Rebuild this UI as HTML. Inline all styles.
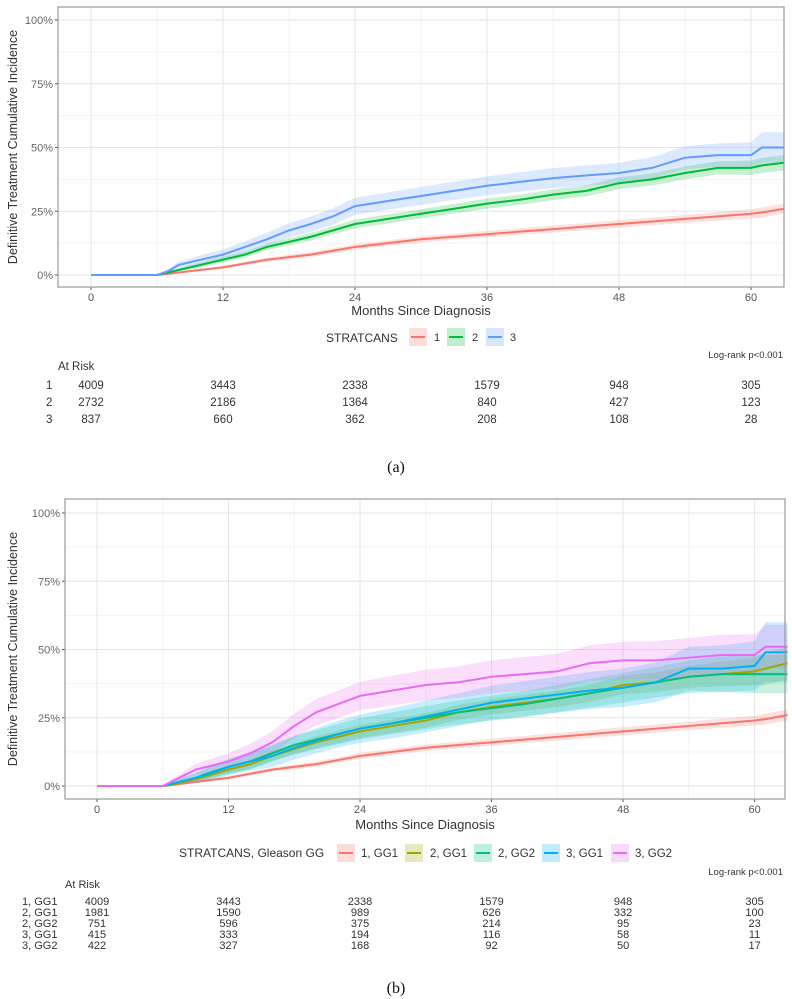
<!DOCTYPE html>
<html><head><meta charset="utf-8">
<style>
body{margin:0;background:#fff;width:792px;height:999px;overflow:hidden;font-family:"Liberation Sans",Arial,sans-serif;}
svg{display:block}
</style></head>
<body>
<svg id="chart" width="792" height="999" viewBox="0 0 792 999" xmlns="http://www.w3.org/2000/svg"></svg>
<script>
// ---------- data ----------
const months = [0,6,7,8,9,10,12,14,16,18,20,22,24,27,30,33,36,39,42,45,48,51,54,57,60,61,63];
const xTicks = [0,12,24,36,48,60];
const yTicks = [0,25,50,75,100];
const yTickLabels = ["0%","25%","50%","75%","100%"];

// Panel (a)
const aNames = ["1","2","3"];
const aRed   = [0,0,0.5,1,1.5,2,3,4.5,6,7,8,9.5,11,12.5,14,15,16,17,18,19,20,21,22,23,24,24.5,26];
const aGreen = [0,0,1,2,3,4,6,8,11,13,15,17.5,20,22,24,26,28,29.5,31.5,33,36,37.5,40,42,42,43,44];
const aBlue  = [0,0,1.5,4,5,6,8,11,14,17.5,20,23,27,29,31,33,35,36.5,38,39,40,42,46,47,47,50,50];
const aRedCI   = [0,0,0.2,0.3,0.4,0.5,0.6,0.7,0.8,0.9,1,1,1.1,1.1,1.2,1.2,1.3,1.3,1.4,1.4,1.5,1.5,1.6,1.7,1.8,2,2];
const aGreenCI = [0,0,0.4,0.6,0.8,1,1.1,1.2,1.3,1.4,1.5,1.6,1.7,1.8,1.8,1.9,2,2,2.1,2.2,2.3,2.4,2.5,2.6,2.8,3,3];
const aBlueCI  = [0,0,0.8,1.2,1.5,1.8,2,2.3,2.6,2.8,3,3.2,3.3,3.4,3.5,3.6,3.7,3.8,3.9,4,4,4.2,4.5,4.6,5,6,6];
const aRisk = [[4009,3443,2338,1579,948,305],[2732,2186,1364,840,427,123],[837,660,362,208,108,28]];

// Panel (b)
const bNames = ["1, GG1","2, GG1","2, GG2","3, GG1","3, GG2"];
const bRed     = [0,0,0.5,1,1.5,2,3,4.5,6,7,8,9.5,11,12.5,14,15,16,17,18,19,20,21,22,23,24,24.5,26];
const bOlive   = [0,0,0.5,1.5,2.5,3.5,6,8,11,13.5,16,18,20,22,24,27,29,30.5,32,34,37,38,40,41,42,43,45];
const bTeal    = [0,0,1,2,3,4.5,7,9,12,15,17,19,21,23,25,27,28.5,30,32,34,36,38,40,41,41,41,41];
const bCyan    = [0,0,1,2,3,4,7,9,11,14,16.5,19,21,23,25.5,28,30.5,32,33.5,35,36,38,43,43,44,49,49];
const bMagenta = [0,0,2,4,6,7,9,12,16,22,27,30,33,35,37,38,40,41,42,45,46,46,47,48,48,51,51];
const bRedCI     = [0,0,0.2,0.3,0.4,0.5,0.6,0.7,0.8,0.9,1,1,1.1,1.1,1.2,1.2,1.3,1.3,1.4,1.4,1.5,1.5,1.6,1.7,1.8,2,2];
const bOliveCI   = [0,0,0.5,0.8,1,1.2,1.5,1.7,1.9,2,2.2,2.3,2.4,2.5,2.6,2.7,2.8,2.9,3,3.2,3.4,3.6,4,4.5,5,6,6];
const bTealCI    = [0,0,0.8,1.2,1.5,2,2.5,2.8,3,3.3,3.5,3.7,3.9,4,4.2,4.4,4.6,4.8,5,5.2,5.4,5.6,6,6.5,7,7,7];
const bCyanCI    = [0,0,1,1.5,2,2.5,3,3.5,4,4.3,4.6,4.9,5.2,5.5,5.8,6,6.2,6.4,6.6,6.8,7,7.3,8,8.5,9,11,11];
const bMagentaCI = [0,0,1,1.5,2,2.5,3,3.5,4,4.5,4.8,5,5.2,5.4,5.6,5.8,6,6.2,6.4,6.6,6.8,7,7.2,7.4,7.6,8,8];
const bRisk = [[4009,3443,2338,1579,948,305],[1981,1590,989,626,332,100],[751,596,375,214,95,23],[415,333,194,116,58,11],[422,327,168,92,50,17]];

// ---------- drawing ----------
const svg = document.getElementById('chart');
const NS = 'http://www.w3.org/2000/svg';
function mk(tag, attrs, parent){
  const e = document.createElementNS(NS, tag);
  for (const k in attrs) e.setAttribute(k, attrs[k]);
  (parent||svg).appendChild(e);
  return e;
}
function txt(s, x, y, size, anchor, fill, parent, weight){
  const t = mk('text', {x:x, y:y, 'font-size':size, 'text-anchor':anchor||'start', fill:fill||'#333', 'font-family':'"Liberation Sans", Arial, sans-serif'}, parent);
  if (weight) t.setAttribute('font-weight', weight);
  t.textContent = s;
  return t;
}
function linePath(xs, ys, sx, sy){
  let d = 'M' + sx(xs[0]) + ',' + sy(ys[0]);
  for (let i = 1; i < xs.length; i++) d += 'L' + sx(xs[i]) + ',' + sy(ys[i]);
  return d;
}
function ribbonPath(xs, ys, ci, sx, sy){
  let d = 'M' + sx(xs[0]) + ',' + sy(ys[0] + ci[0]);
  for (let i = 1; i < xs.length; i++) d += 'L' + sx(xs[i]) + ',' + sy(ys[i] + ci[i]);
  for (let i = xs.length - 1; i >= 0; i--) d += 'L' + sx(xs[i]) + ',' + sy(Math.max(0, ys[i] - ci[i]));
  return d + 'Z';
}

function drawPanel(g, P, series){
  const sx = m => P.x0 + m * P.pxPerMonth;
  const sy = v => P.y0 - v * P.pxPerPct;
  mk('rect', {x:P.left, y:P.top, width:P.right-P.left, height:P.bottom-P.top, fill:'#fff'}, g);
  for (let i = 0; i < xTicks.length; i++){
    const mm = xTicks[i] + 6;
    if (sx(mm) < P.right) mk('line', {x1:sx(mm), x2:sx(mm), y1:P.top, y2:P.bottom, stroke:'#f3f3f3', 'stroke-width':1}, g);
  }
  for (let i = 0; i < yTicks.length - 1; i++){
    const v = yTicks[i] + 12.5;
    mk('line', {x1:P.left, x2:P.right, y1:sy(v), y2:sy(v), stroke:'#f3f3f3', 'stroke-width':1}, g);
  }
  for (let i = 0; i < xTicks.length; i++){
    const gl = mk('line', {x1:sx(xTicks[i]), x2:sx(xTicks[i]), y1:P.top, y2:P.bottom, stroke:'#e6e6e6', 'stroke-width':1}, g);
    
    
    mk('line', {x1:sx(xTicks[i]), x2:sx(xTicks[i]), y1:P.bottom, y2:P.bottom+3, stroke:'#555'}, g);
    const t = txt(String(xTicks[i]), sx(xTicks[i]), P.bottom + 14, 11, 'middle', '#555', g);
    
    
  }
  for (let i = 0; i < yTicks.length; i++){
    const gl = mk('line', {x1:P.left, x2:P.right, y1:sy(yTicks[i]), y2:sy(yTicks[i]), stroke:'#e6e6e6', 'stroke-width':1}, g);
    
    
    mk('line', {x1:P.left-3, x2:P.left, y1:sy(yTicks[i]), y2:sy(yTicks[i]), stroke:'#555'}, g);
    const t = txt(yTickLabels[i], P.left - 5, sy(yTicks[i]) + 4, 11, 'end', '#666', g);
    
    
  }
  for (const s of series){
    const r = mk('path', {d:ribbonPath(months, s.vals, s.ci, sx, sy), fill:s.color, 'fill-opacity':0.22, stroke:'none'}, g);
    
    
  }
  for (const s of series){
    const l = mk('path', {d:linePath(months, s.vals, sx, sy), fill:'none', stroke:s.color, 'stroke-width':2, 'stroke-linejoin':'round'}, g);
    
    
  }
  mk('rect', {x:P.left, y:P.top, width:P.right-P.left, height:P.bottom-P.top, fill:'none', stroke:'#999', 'stroke-width':1.2}, g);
}

function drawRisk(g, P, names, risk, labelX, rowY, fontSize){
  const sx = m => P.x0 + m * P.pxPerMonth;
  for (let r = 0; r < risk.length; r++){
    const l = txt(names[r], labelX, rowY[r], fontSize, 'start', '#333', g);
    
    
    for (let c = 0; c < risk[r].length; c++){
      const t = txt(String(risk[r][c]), sx(xTicks[c]), rowY[r], fontSize, 'middle', '#333', g);
      
      
    }
  }
}

function legendKey(g, x, y, color, name){
  const b = mk('rect', {x:x, y:y-9, width:18, height:18, fill:color, 'fill-opacity':0.25}, g);
  
  
  mk('line', {x1:x+2, x2:x+16, y1:y, y2:y, stroke:color, 'stroke-width':2}, g);
}

// ---- Panel A ----
const gA = mk('g', {});


const PA = {left:58, right:784, top:7, bottom:287, x0:91, pxPerMonth:11, y0:275, pxPerPct:2.55};
drawPanel(gA, PA, [
  {key:'1', vals:aRed, ci:aRedCI, color:'#F8766D'},
  {key:'2', vals:aGreen, ci:aGreenCI, color:'#00BA38'},
  {key:'3', vals:aBlue, ci:aBlueCI, color:'#619CFF'}
]);
const ytA = txt('Definitive Treatment Cumulative Incidence', 0, 0, 12.5, 'middle', '#333', gA);
ytA.setAttribute('transform', 'translate(17,147) rotate(-90)');


const xtA = txt('Months Since Diagnosis', 421, 315, 13, 'middle', '#333', gA);


const lgA = txt('STRATCANS', 326, 342, 12, 'start', '#333', gA);


legendKey(gA, 409, 337, '#F8766D', '1'); txt('1', 434, 341, 11, 'start', '#333', gA);
legendKey(gA, 447, 337, '#00BA38', '2'); txt('2', 472, 341, 11, 'start', '#333', gA);
legendKey(gA, 486, 337, '#619CFF', '3'); txt('3', 510, 341, 11, 'start', '#333', gA);
const lrA = txt('Log-rank p<0.001', 783, 358, 9.5, 'end', '#333', gA);


const arA = txt('At Risk', 58, 370, 11.5, 'start', '#333', gA);


drawRisk(gA, PA, aNames, aRisk, 46, [389, 406, 423], 11.5);
const capA = mk('text', {x:396, y:472, 'font-size':16, 'text-anchor':'middle', fill:'#111', 'font-family':'"Liberation Serif", serif'}, gA);
capA.textContent = '(a)';



// ---- Panel B ----
const gB = mk('g', {});


const PB = {left:65, right:785, top:499, bottom:799, x0:97, pxPerMonth:10.96, y0:786, pxPerPct:2.73};
drawPanel(gB, PB, [
  {key:'1-gg1', vals:bRed, ci:bRedCI, color:'#F8766D'},
  {key:'2-gg1', vals:bOlive, ci:bOliveCI, color:'#A3A500'},
  {key:'2-gg2', vals:bTeal, ci:bTealCI, color:'#00BF7D'},
  {key:'3-gg1', vals:bCyan, ci:bCyanCI, color:'#00B0F6'},
  {key:'3-gg2', vals:bMagenta, ci:bMagentaCI, color:'#E76BF3'}
]);
const ytB = txt('Definitive Treatment Cumulative Incidence', 0, 0, 12.5, 'middle', '#333', gB);
ytB.setAttribute('transform', 'translate(17,649) rotate(-90)');


const xtB = txt('Months Since Diagnosis', 425, 829, 13, 'middle', '#333', gB);


const lgB = txt('STRATCANS, Gleason GG', 179, 857, 12, 'start', '#333', gB);


legendKey(gB, 337, 853, '#F8766D', '1-gg1'); txt('1, GG1', 361, 857, 11.5, 'start', '#333', gB);
legendKey(gB, 405, 853, '#A3A500', '2-gg1'); txt('2, GG1', 430, 857, 11.5, 'start', '#333', gB);
legendKey(gB, 474, 853, '#00BF7D', '2-gg2'); txt('2, GG2', 498, 857, 11.5, 'start', '#333', gB);
legendKey(gB, 542, 853, '#00B0F6', '3-gg1'); txt('3, GG1', 566, 857, 11.5, 'start', '#333', gB);
legendKey(gB, 611, 853, '#E76BF3', '3-gg2'); txt('3, GG2', 635, 857, 11.5, 'start', '#333', gB);
const lrB = txt('Log-rank p<0.001', 783, 875, 9.5, 'end', '#333', gB);


const arB = txt('At Risk', 65, 888, 11, 'start', '#333', gB);


drawRisk(gB, PB, bNames, bRisk, 22, [905, 916, 927, 938, 949], 11);
const capB = mk('text', {x:396, y:993, 'font-size':16, 'text-anchor':'middle', fill:'#111', 'font-family':'"Liberation Serif", serif'}, gB);
capB.textContent = '(b)';


</script>
</body></html>
